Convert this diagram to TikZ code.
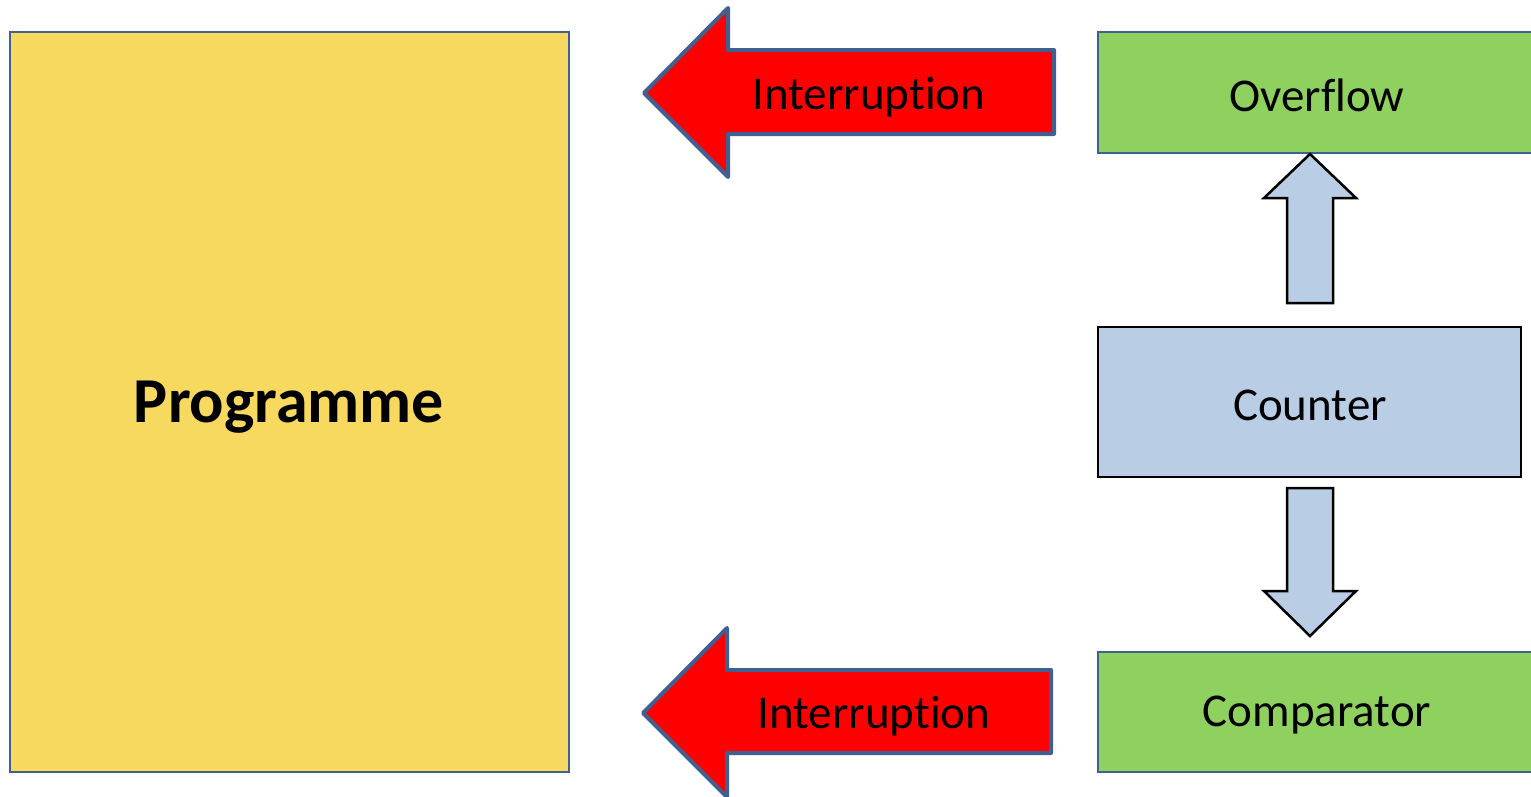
\documentclass[tikz,border=0pt]{standalone}
\usepackage{fontspec}
\setmainfont[Ligatures=NoCommon]{Carlito}
\definecolor{progfill}{HTML}{F7D960}
\definecolor{edgeblue}{HTML}{3F6090}
\definecolor{greenfill}{HTML}{8FD15F}
\definecolor{bluefill}{HTML}{B9CDE5}
\definecolor{redfill}{HTML}{FF0000}
\tikzset{
  box/.style={draw=edgeblue, line width=2pt},
  redarrow/.style={draw=edgeblue, fill=redfill, line width=4pt, line join=round},
  bluearrow/.style={draw=black, fill=bluefill, line width=2.5pt},
  lbl/.style={font=\fontsize{47}{56}\selectfont, inner sep=0pt},
}
\begin{document}
\begin{tikzpicture}[x=1pt,y=-1pt]
\useasboundingbox (0,0) rectangle (1531,796);
\clip (0,0) rectangle (1531,796);
% Programme
\draw[box, fill=progfill] (10,32) rectangle (569,772);
\node[font=\fontsize{64}{76}\selectfont\bfseries, inner sep=0pt] (prog) at (289,407) {Programme};
% right boxes
\draw[box, fill=greenfill] (1098,32) rectangle (1540,153);
\node[lbl] (ovf) at (1317,95) {Overflow};
\draw[draw=black, line width=2pt, fill=bluefill] (1098,327) rectangle (1521,477);
\node[lbl] (cnt) at (1310,405) {Counter};
\draw[box, fill=greenfill] (1098,652) rectangle (1540,772);
\node[lbl] (cmp) at (1317,715) {Comparator};
% blue block arrows
\draw[bluearrow] (1287,303) -- (1287,198) -- (1264,198) -- (1310,154) -- (1356,198) -- (1333,198) -- (1333,303) -- cycle;
\draw[bluearrow] (1287,488) -- (1287,591) -- (1264,591) -- (1310,636) -- (1356,591) -- (1333,591) -- (1333,488) -- cycle;
% red block arrows
\draw[redarrow] (1054,50) -- (728,50) -- (728,8) -- (644,93) -- (728,177) -- (728,134) -- (1054,134) -- cycle;
\node[lbl] (int1) at (869,97) {Interruption};
\draw[redarrow] (1051,670) -- (727,670) -- (727,628) -- (643,713) -- (727,797) -- (727,753) -- (1051,753) -- cycle;
\node[lbl] (int2) at (874,716) {Interruption};
\end{tikzpicture}
\end{document}
